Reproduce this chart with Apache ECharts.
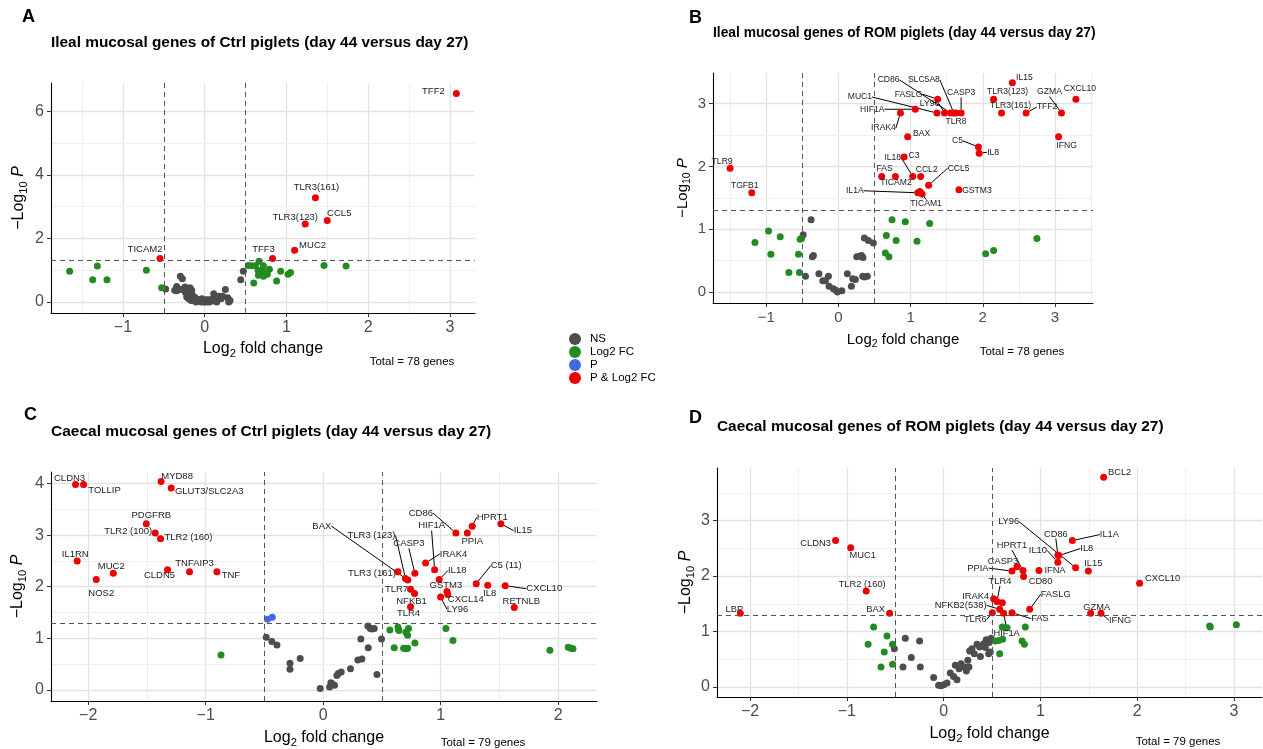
<!DOCTYPE html>
<html><head><meta charset="utf-8">
<script src="https://cdn.jsdelivr.net/npm/echarts@6/dist/echarts.min.js"></script>
<style>html,body{margin:0;padding:0;background:#fff}#c{width:1263px;height:749px}</style>
</head><body><div id="c"></div>
<script>
const FONT = '"Liberation Sans", Arial, sans-serif';
const LEGEND_NAMES = ['NS', 'Log2 FC', 'P', 'P & Log2 FC'];
const COLORS = {NS: '#4D4D4D', 'Log2 FC': '#228B22', P: '#4169E1', 'P & Log2 FC': '#EE0000'};

// ---------- Panel A ----------
const A_sigGenes = ['TFF2','TLR3(161)','TLR3(123)','CCL5','MUC2','TFF3','TICAM2'];
const A_sigLfc = [3.08,1.355,1.23,1.50,1.10,0.83,-0.547];
const A_sigP = [6.56,3.28,2.45,2.56,1.63,1.37,1.37];
const A_fcLfc = [-1.653,-1.314,-1.371,-1.196,-0.714,-0.527,0.535,0.576,0.665,0.62,0.718,0.653,0.706,0.792,0.767,0.706,0.657,0.60,0.718,0.88,0.93,1.02,1.05,1.46,1.73];
const A_fcP = [0.97,1.13,0.70,0.70,1.00,0.45,1.15,1.14,1.28,1.14,1.14,1.00,1.00,1.03,0.87,0.89,0.84,0.60,0.81,0.66,0.97,0.87,0.93,1.15,1.13];
const A_nsLfc = [-0.478,-0.367,-0.343,-0.298,-0.273,-0.29,-0.257,-0.237,-0.208,-0.18,-0.159,-0.139,-0.118,-0.098,-0.073,-0.041,-0.008,0.024,0.057,0.086,0.11,0.127,0.147,0.176,0.22,0.253,0.282,0.294,0.31,0.441,0.473,-0.343,-0.22,-0.196,-0.167,-0.139,-0.106,-0.065,-0.033,0.016,0.045,0.098,0.147,0.2,-0.159,-0.241];
const A_nsP = [0.41,0.37,0.35,0.81,0.73,0.39,0.41,0.31,0.28,0.45,0.24,0.18,0.14,0.08,0.03,0.00,0.00,0.00,0.00,0.03,0.26,0.14,0.08,0.18,0.18,0.39,0.13,0.00,0.05,0.70,0.97,0.49,0.16,0.10,0.05,0.05,0.00,0.07,0.10,0.07,0.07,0.10,0.00,0.10,0.37,0.47];
const A_xTicks = [-1,0,1,2,3];
const A_yTicks = [0,2,4,6];

// ---------- Panel B ----------
const B_sigGenes = ['TLR9','TGFB1','IL15','TLR3(123)','CXCL10','TLR3(161)','TFF2','GZMA','IFNG','C5','IL8','FASLG','MUC1','LY96','CD86','SLC5A8','TLR8','CASP3','HIF1A','IRAK4','BAX','C3','FAS','','IL18','CCL2','CCL5','IL1A','TICAM2','TICAM1','GSTM3'];
const B_sigLfc = [-1.50,-1.20,2.41,2.15,3.29,2.26,2.60,3.09,3.05,1.94,1.95,1.375,1.365,1.47,1.555,1.60,1.63,1.70,1.065,0.86,0.96,0.91,0.60,0.79,1.03,1.14,1.25,1.10,1.13,1.16,1.67];
const B_sigP = [1.97,1.58,3.33,3.07,3.07,2.85,2.85,2.85,2.47,2.31,2.21,3.07,2.85,2.85,2.85,2.85,2.85,2.85,2.91,2.85,2.47,2.15,1.84,1.84,1.84,1.84,1.70,1.58,1.60,1.56,1.63];
const B_fcLfc = [-1.156,-0.968,-0.935,-0.806,-0.686,-0.54,-0.553,-0.53,-0.51,0.743,0.927,1.264,0.664,0.80,1.089,0.65,0.70,2.04,2.15,2.75];
const B_fcP = [0.79,0.97,0.60,0.88,0.31,0.31,0.60,0.84,0.85,1.15,1.12,1.09,0.90,0.82,0.81,0.62,0.56,0.61,0.66,0.85];
const B_nsLfc = [-0.378,-0.488,-0.36,-0.346,-0.456,-0.27,-0.216,-0.18,-0.138,-0.129,-0.069,-0.041,-0.014,0.047,0.124,0.18,0.199,0.235,0.254,0.295,0.32,0.34,0.36,0.415,0.484,0.337,0.36,0.40];
const B_nsP = [1.15,0.91,0.56,0.58,0.25,0.29,0.18,0.18,0.25,0.09,0.05,0.03,0.0,0.02,0.29,0.09,0.21,0.20,0.56,0.57,0.58,0.55,0.86,0.82,0.78,0.25,0.24,0.25];
const B_xTicks = [-1,0,1,2,3];
const B_yTicks = [0,1,2,3];

// ---------- Panel C ----------
const C_sigGenes = ['CLDN3','TOLLIP','MYD88','GLUT3/SLC2A3','PDGFRB','TLR2 (100)','TLR2 (160)','IL1RN','MUC2','NOS2','CLDN5','TNFAIP3','TNF','CD86','PPIA','HPRT1','IL15','TLR3 (161)','BAX','TLR3 (123)','CASP3','IRAK4','HIF1A','IL18','GSTM3','CXCL14','LY96','TLR7','NFKB1','TLR4','C5 (11)','IL8','CXCL10','RETNLB'];
const C_sigLfc = [-2.108,-2.04,-1.38,-1.294,-1.506,-1.43,-1.385,-2.094,-1.787,-1.932,-1.325,-1.138,-0.905,1.129,1.226,1.268,1.512,0.636,0.72,0.70,0.78,0.871,0.948,0.987,1.053,1.06,0.999,0.743,0.777,0.743,1.302,1.40,1.549,1.626];
const C_sigP = [3.98,3.98,4.04,3.91,3.22,3.04,2.93,2.50,2.26,2.14,2.33,2.29,2.29,3.04,3.04,3.17,3.22,2.29,2.13,2.16,2.26,2.46,2.33,2.14,1.91,1.85,1.80,1.95,1.87,1.61,2.06,2.03,2.02,1.60];
const C_pLfc = [-0.474,-0.434];
const C_pP = [1.37,1.41];
const C_fcLfc = [-0.87,0.567,0.636,0.64,0.645,0.726,0.704,0.718,1.044,1.104,0.78,0.604,0.684,0.706,0.718,1.929,2.085,2.108,2.125];
const C_fcP = [0.68,1.16,1.22,1.17,1.15,1.19,1.12,1.06,1.19,0.96,0.91,0.82,0.81,0.80,0.81,0.77,0.83,0.81,0.80];
const C_nsLfc = [-0.485,-0.437,-0.394,-0.283,-0.283,-0.196,0.38,0.40,0.434,0.417,0.32,0.496,0.383,0.295,0.329,0.232,0.457,0.128,0.153,0.116,0.054,0.074,0.096,0.065,-0.026];
const C_nsP = [1.02,0.94,0.87,0.52,0.40,0.61,1.24,1.19,1.19,1.18,0.99,0.99,0.82,0.58,0.60,0.41,0.30,0.32,0.35,0.28,0.06,0.12,0.09,0.14,0.03];
const C_xTicks = [-2,-1,0,1,2];
const C_yTicks = [0,1,2,3,4];

// ---------- Panel D ----------
const D_sigGenes = ['CLDN3','MUC1','TLR2 (160)','LBP','BAX','BCL2','IL1A','CD86','IL8','IL10','LY96','IL15','IFNA','CD80','HPRT1','CASP3','PPIA','CXCL10','FASLG','GZMA','IFNG','IRAK4','TLR4','','NFKB2(538)','TLR6','HIF1A','FAS'];
const D_sigLfc = [-1.116,-0.96,-0.80,-2.10,-0.558,1.653,1.33,1.18,1.19,1.18,1.364,1.495,0.985,0.826,0.82,0.758,0.706,2.025,0.889,1.519,1.626,0.517,0.551,0.606,0.579,0.503,0.62,0.706];
const D_sigP = [2.64,2.51,1.73,1.33,1.33,3.78,2.64,2.38,2.37,2.25,2.15,2.09,2.10,1.99,2.10,2.17,2.09,1.87,1.40,1.33,1.33,1.59,1.54,1.52,1.40,1.34,1.33,1.34];
const D_fcLfc = [-0.723,-0.585,-0.78,-0.527,-0.613,-0.647,-0.527,0.606,0.655,0.844,0.534,0.568,0.61,0.81,0.834,0.579,2.748,2.755,3.024];
const D_fcP = [1.08,0.92,0.77,0.77,0.63,0.36,0.41,1.08,1.07,1.08,0.83,0.84,0.86,0.83,0.77,0.60,1.10,1.08,1.12];
const D_nsLfc = [-0.509,-0.396,-0.248,-0.334,-0.42,-0.241,-0.103,-0.052,-0.027,0,0.035,0.069,0.103,0.138,0.121,0.18,0.214,0.235,0.262,0.269,0.293,0.317,0.345,0.372,0.413,0.431,0.465,0.482,0.44,0.47,0.49,0.38,0.25,0.16];
const D_nsP = [0.69,0.88,0.83,0.53,0.36,0.36,0.17,0.03,0.02,0.04,0.07,0.25,0.19,0.13,0.39,0.42,0.36,0.29,0.36,0.65,0.69,0.60,0.77,0.72,0.78,0.71,0.60,0.63,0.85,0.80,0.88,0.55,0.48,0.33];
const D_xTicks = [-2,-1,0,1,2,3];
const D_yTicks = [0,1,2,3];

const LFC_CUT = 0.5;
const P_CUT = -Math.log10(0.05);

// label placement (pixel offset of label centre from its point, connector flag)
const LABEL_LAYOUT = {
  A: {'TFF2':[-23,-2,0],'TLR3(161)':[1,-10,0],'TLR3(123)':[-10,-7,0],'CCL5':[12,-7,0],'MUC2':[18,-5,0],'TFF3':[-9,-9,0],'TICAM2':[-15,-9,0]},
  B: {'TLR9':[-8,-7,0],'TGFB1':[-7,-7,0],'IL15':[12,-5,0],'TLR3(123)':[14,-8,0],'GZMA':[-12,-21,1],'CXCL10':[4,-11,0],'TLR3(161)':[9,-7,0],'TFF2':[21,-6,1],'IFNG':[8,9,0],'C5':[-21,-6,1],'IL8':[14,-1,1],'BAX':[14,-3,0],'IRAK4':[-17,15,1],'HIF1A':[-43,0,1],'MUC1':[-77,-16,1],'CD86':[-62,-33,1],'SLC5A8':[-30,-33,1],'CASP3':[0,-20,1],'FASLG':[-29,-5,1],'LY96':[-15,-9,1],'TLR8':[0,9,0],'C3':[10,-1,0],'IL18':[-20,-19,1],'FAS':[3,-8,0],'CCL2':[6,-7,0],'CCL5':[30,-17,1],'TICAM2':[-24,-9,0],'IL1A':[-63,-2,1],'TICAM1':[4,10,1],'GSTM3':[18,1,0]},
  C: {'CLDN3':[-6,-6,0],'TOLLIP':[21,6,0],'MYD88':[16,-5,0],'GLUT3/SLC2A3':[38,3,0],'PDGFRB':[5,-8,0],'TLR2 (100)':[-27,-2,0],'TLR2 (160)':[28,-1,0],'IL1RN':[-2,-7,0],'MUC2':[-2,-7,0],'NOS2':[5,14,0],'CLDN5':[-8,6,0],'TNFAIP3':[5,-8,0],'TNF':[14,4,0],'BAX':[-86,-54,1],'TLR3 (123)':[-34,-43,1],'CASP3':[-6,-30,1],'CD86':[-35,-20,1],'HIF1A':[-3,-44,1],'HPRT1':[20,-9,1],'PPIA':[5,8,0],'IL15':[22,7,1],'IRAK4':[28,-9,1],'TLR3 (161)':[-26,2,0],'IL18':[18,-9,1],'GSTM3':[-1,-6,0],'CXCL14':[18,5,0],'LY96':[17,12,1],'TLR7':[-14,0,0],'NFKB1':[-3,8,0],'TLR4':[-2,7,0],'C5 (11)':[30,-18,1],'IL8':[2,8,0],'CXCL10':[39,3,1],'RETNLB':[7,-6,0]},
  D: {'CLDN3':[-20,3,0],'MUC1':[12,8,0],'TLR2 (160)':[-4,-7,0],'LBP':[-6,-4,0],'BAX':[-14,-4,0],'BCL2':[16,-5,0],'LY96':[-67,-46,1],'CD86':[-2,-21,1],'IL8':[28,-7,1],'IL1A':[37,-6,1],'IL10':[-20,-12,1],'HPRT1':[-11,-25,1],'CASP3':[-14,-5,0],'PPIA':[-34,-3,1],'IFNA':[16,0,0],'IL15':[5,-8,0],'CD80':[17,5,0],'CXCL10':[23,-5,0],'TLR4':[3,-20,1],'FASLG':[26,-15,1],'IRAK4':[-18,-2,0],'NFKB2(538)':[-39,-4,1],'TLR6':[-17,7,1],'FAS':[28,6,1],'HIF1A':[3,20,1],'GZMA':[6,-6,0],'IFNG':[19,7,1]}
};

const PANELS = [
  {id:'A', title:'Ileal mucosal genes of Ctrl piglets (day 44 versus day 27)', total:'Total = 78 genes',
   grid:{left:51, top:83, width:424, height:230}, xr:[-1.881,3.308], yr:[-0.346,6.888], xt:A_xTicks, yt:A_yTicks,
   sig:[A_sigGenes,A_sigLfc,A_sigP], fc:[A_fcLfc,A_fcP], ns:[A_nsLfc,A_nsP], p:null,
   letterPos:[22,8], titlePos:[51,35], totalPos:[412,362], tick:16, axisTitle:16, titleSize:15.4, lab:9.5, xGap:26, yGap:22},
  {id:'B', title:'Ileal mucosal genes of ROM piglets (day 44 versus day 27)', total:'Total = 78 genes',
   grid:{left:713, top:73, width:380, height:230}, xr:[-1.737,3.527], yr:[-0.175,3.487], xt:B_xTicks, yt:B_yTicks,
   sig:[B_sigGenes,B_sigLfc,B_sigP], fc:[B_fcLfc,B_fcP], ns:[B_nsLfc,B_nsP], p:null,
   letterPos:[689,9.5], titlePos:[713,26], totalPos:[1022,352], tick:15, axisTitle:15, titleSize:13.8, lab:8.6, xGap:27, yGap:20},
  {id:'C', title:'Caecal mucosal genes of Ctrl piglets (day 44 versus day 27)', total:'Total = 79 genes',
   grid:{left:51, top:472, width:546, height:229}, xr:[-2.317,2.33], yr:[-0.213,4.222], xt:C_xTicks, yt:C_yTicks,
   sig:[C_sigGenes,C_sigLfc,C_sigP], fc:[C_fcLfc,C_fcP], ns:[C_nsLfc,C_nsP], p:[C_pLfc,C_pP],
   letterPos:[24,406], titlePos:[51,424], totalPos:[483,743], tick:16, axisTitle:16, titleSize:15.5, lab:9.5, xGap:27, yGap:23},
  {id:'D', title:'Caecal mucosal genes of ROM piglets (day 44 versus day 27)', total:'Total = 79 genes',
   grid:{left:717, top:468, width:545, height:229}, xr:[-2.341,3.289], yr:[-0.181,3.949], xt:D_xTicks, yt:D_yTicks,
   sig:[D_sigGenes,D_sigLfc,D_sigP], fc:[D_fcLfc,D_fcP], ns:[D_nsLfc,D_nsP], p:null,
   letterPos:[689,409], titlePos:[717,419], totalPos:[1178,742], tick:16, axisTitle:16, titleSize:15.4, lab:9.3, xGap:27, yGap:21}
];

function minorOf(ticks, range) {
  const step = ticks[1] - ticks[0];
  const out = [];
  for (let v = ticks[0] - step / 2; v <= range[1]; v += step) if (v >= range[0]) out.push(+v.toFixed(6));
  return out;
}
function fmt(v) { return v < 0 ? '\u2212' + Math.abs(v) : String(v); }
function zip(xs, ys) { return xs.map((x, i) => [x, ys[i]]); }

const grids = [], xAxes = [], yAxes = [], series = [], titles = [], graphics = [];
PANELS.forEach((P, i) => {
  grids.push(Object.assign({containLabel:false}, P.grid));
  const axisCommon = {
    type:'value', gridIndex:i,
    axisLine:{show:true, onZero:false, lineStyle:{color:'#000', width:1.1}},
    splitLine:{show:false}, minorSplitLine:{show:false}
  };
  xAxes.push(Object.assign({}, axisCommon, {
    min:P.xr[0], max:P.xr[1],
    axisTick:{show:true, length:4, customValues:P.xt, lineStyle:{color:'#333', width:1}},
    axisLabel:{customValues:P.xt, formatter:fmt, color:'#4D4D4D', fontSize:P.tick, fontFamily:FONT, margin:7},
    name:'{a|Log}{s|2}{a| fold change}', nameLocation:'middle', nameGap:P.xGap,
    nameTextStyle:{color:'#000', fontFamily:FONT, fontSize:P.axisTitle,
      rich:{a:{fontSize:P.axisTitle, fontFamily:FONT, color:'#000'}, s:{fontSize:P.axisTitle*0.7, fontFamily:FONT, color:'#000', padding:[9,0,0,0]}}}
  }));
  yAxes.push(Object.assign({}, axisCommon, {
    min:P.yr[0], max:P.yr[1],
    axisTick:{show:true, length:4, customValues:P.yt, lineStyle:{color:'#333', width:1}},
    axisLabel:{customValues:P.yt, formatter:fmt, color:'#4D4D4D', fontSize:P.tick, fontFamily:FONT, margin:7},
    name:'{a|\u2212Log}{s|10}{p| P}', nameLocation:'middle', nameGap:P.yGap,
    nameTextStyle:{color:'#000', fontFamily:FONT, fontSize:P.axisTitle,
      rich:{a:{fontSize:P.axisTitle, fontFamily:FONT, color:'#000'}, s:{fontSize:P.axisTitle*0.7, fontFamily:FONT, color:'#000', padding:[9,0,0,0]},
            p:{fontSize:P.axisTitle, fontFamily:FONT, color:'#000', fontStyle:'italic'}}}
  }));

  // background grid lines
  const gl = [];
  const major = {color:'#E3E3E3', width:1.4, type:'solid'}, minor = {color:'#EEEEEE', width:1, type:'solid'};
  P.xt.forEach(v => gl.push({xAxis:v, lineStyle:major}));
  minorOf(P.xt, P.xr).forEach(v => gl.push({xAxis:v, lineStyle:minor}));
  P.yt.forEach(v => gl.push({yAxis:v, lineStyle:major}));
  minorOf(P.yt, P.yr).forEach(v => gl.push({yAxis:v, lineStyle:minor}));
  series.push({type:'scatter', name:'grid'+i, xAxisIndex:i, yAxisIndex:i, data:[], silent:true, z:0,
    markLine:{silent:true, z:0, symbol:['none','none'], label:{show:false}, animation:false, data:gl}});

  const addScatter = (name, arr, extra) => {
    series.push(Object.assign({type:'scatter', name:name, xAxisIndex:i, yAxisIndex:i, symbolSize:7, z:3,
      itemStyle:{color:COLORS[name], opacity:1}, data:zip(arr[0], arr[1]), emphasis:{disabled:true}}, extra || {}));
  };
  addScatter('NS', P.ns);
  addScatter('Log2 FC', P.fc);
  if (P.p) addScatter('P', P.p);
  const lay = LABEL_LAYOUT[P.id];
  const sigData = P.sig[0].map((g, k) => ({
    name:g, value:[P.sig[1][k], P.sig[2][k]],
    label:{show: g !== ''},
    labelLine:{show: !!(lay[g] && lay[g][2]), lineStyle:{color:'#000', width:1}}
  }));
  series.push({type:'scatter', name:'P & Log2 FC', xAxisIndex:i, yAxisIndex:i, symbolSize:7, z:3,
    itemStyle:{color:COLORS['P & Log2 FC'], opacity:1}, data:sigData, emphasis:{disabled:true},
    label:{show:true, position:'inside', formatter:'{b}', fontSize:P.lab, fontFamily:FONT, color:'#222'},
    labelLine:{show:false, lineStyle:{color:'#000', width:1}},
    labelLayout: function (params) {
      const o = lay[params.text];
      return o ? {dx:o[0], dy:o[1]} : {};
    }
  });

  // cut-off lines
  series.push({type:'scatter', name:'cut'+i, xAxisIndex:i, yAxisIndex:i, data:[], silent:true, z:4,
    markLine:{silent:true, z:4, symbol:['none','none'], label:{show:false}, animation:false,
      lineStyle:{color:'#555', width:1, type:[5,4]},
      data:[{xAxis:-LFC_CUT},{xAxis:LFC_CUT},{yAxis:P_CUT}]}});

  titles.push({text:P.id, left:P.letterPos[0], top:P.letterPos[1], padding:0,
    textStyle:{fontSize:18, fontWeight:'bold', fontFamily:FONT, color:'#000'}});
  titles.push({text:P.title, left:P.titlePos[0], top:P.titlePos[1], padding:0,
    textStyle:{fontSize:P.titleSize, fontWeight:'bold', fontFamily:FONT, color:'#000'}});
  graphics.push({type:'text', x:P.totalPos[0], y:P.totalPos[1], silent:true,
    style:{text:P.total, fontSize:11.5, fontFamily:FONT, fill:'#000', align:'center', verticalAlign:'middle', textAlign:'center', textVerticalAlign:'middle'}});
});

const chart = echarts.init(document.getElementById('c'), null, {renderer:'canvas'});
chart.setOption({
  animation:false,
  backgroundColor:'#fff',
  title:titles,
  grid:grids, xAxis:xAxes, yAxis:yAxes, series:series,
  legend:{data:LEGEND_NAMES, orient:'vertical', left:569, top:333, padding:0, itemWidth:20, itemHeight:12, itemGap:1,
    icon:'circle', selectedMode:false, textStyle:{fontSize:11.5, fontFamily:FONT, color:'#000'}},
  graphic:graphics,
  tooltip:{show:false}
});
</script></body></html>
